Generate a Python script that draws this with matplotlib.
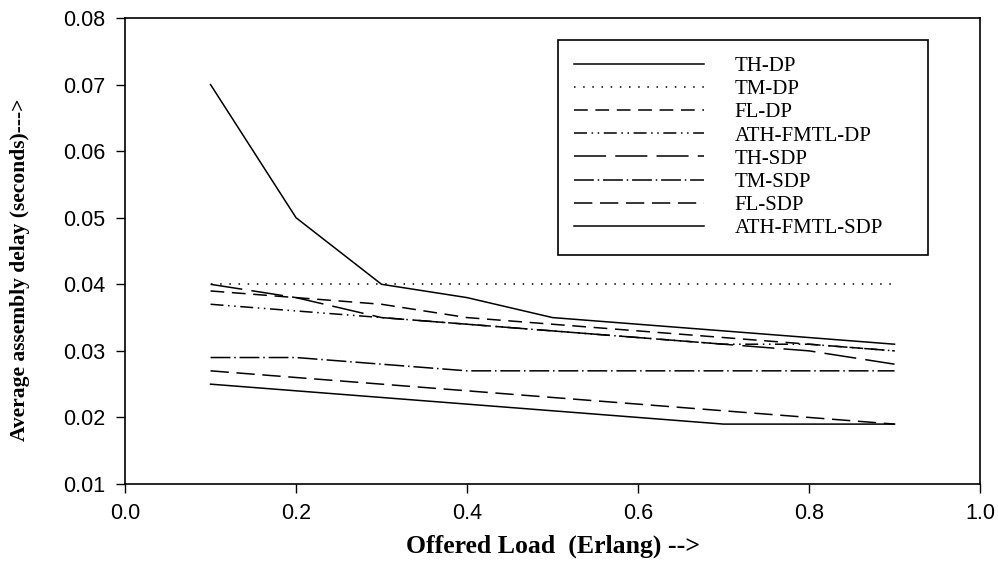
import matplotlib
matplotlib.use('Agg')
import matplotlib.pyplot as plt

# offered load (Erlang)
load = [0.1, 0.2, 0.3, 0.4, 0.5, 0.6, 0.7, 0.8, 0.9]

# average assembly delay (s) per scheme
th_dp = [0.070, 0.050, 0.040, 0.038, 0.035, 0.034, 0.033, 0.032, 0.031]
tm_dp = [0.040, 0.040, 0.040, 0.040, 0.040, 0.040, 0.040, 0.040, 0.040]
fl_dp = [0.039, 0.038, 0.037, 0.035, 0.034, 0.033, 0.032, 0.031, 0.030]
ath_fmtl_dp = [0.037, 0.036, 0.035, 0.034, 0.033, 0.032, 0.031, 0.031, 0.030]
th_sdp = [0.040, 0.038, 0.035, 0.034, 0.033, 0.032, 0.031, 0.030, 0.028]
tm_sdp = [0.029, 0.029, 0.028, 0.027, 0.027, 0.027, 0.027, 0.027, 0.027]
fl_sdp = [0.027, 0.026, 0.025, 0.024, 0.023, 0.022, 0.021, 0.020, 0.019]
ath_fmtl_sdp = [0.025, 0.024, 0.023, 0.022, 0.021, 0.020, 0.019, 0.019, 0.019]

labels = ['TH-DP', 'TM-DP', 'FL-DP', 'ATH-FMTL-DP',
          'TH-SDP', 'TM-SDP', 'FL-SDP', 'ATH-FMTL-SDP']
series = [th_dp, tm_dp, fl_dp, ath_fmtl_dp, th_sdp, tm_sdp, fl_sdp, ath_fmtl_sdp]
styles = ['-', (0, (1, 5)), (0, (9, 5)), (0, (8.5, 3, 1, 3, 1, 3)),
          (0, (21, 6)), (0, (13, 2.5, 1, 2.5)), (0, (12, 5)), '-']

fig = plt.figure(figsize=(9.98, 5.63), dpi=100)
ax = fig.add_axes([0.1253, 0.1403, 0.8567, 0.8277])

for y, ls, lab in zip(series, styles, labels):
    ax.plot(load, y, color='black', linestyle=ls, linewidth=1.1, label=lab)

ax.set_xlim(0.0, 1.0)
ax.set_ylim(0.01, 0.08)
ax.set_xticks([0.0, 0.2, 0.4, 0.6, 0.8, 1.0])
ax.set_yticks([0.01, 0.02, 0.03, 0.04, 0.05, 0.06, 0.07, 0.08])
ax.set_xticklabels(['0.0', '0.2', '0.4', '0.6', '0.8', '1.0'])
ax.set_yticklabels(['0.01', '0.02', '0.03', '0.04', '0.05', '0.06', '0.07', '0.08'])
ax.tick_params(direction='out', length=6.5, width=1, labelsize=15.5)
ax.tick_params(axis='y', pad=8)
ax.tick_params(axis='x', pad=7)
for t in ax.get_xticklabels() + ax.get_yticklabels():
    t.set_fontfamily('Liberation Sans')
for s in ax.spines.values():
    s.set_linewidth(1.2)

ax.set_xlabel('Offered Load  (Erlang) -->', family='Liberation Serif',
              fontweight='bold', fontsize=18.5)
ax.set_ylabel('Average assembly delay (seconds)--->', family='Liberation Serif',
              fontweight='bold', fontsize=15.5)
ax.xaxis.set_label_coords(0.5, -0.108)
ax.yaxis.set_label_coords(-0.111, 0.459)

# legend box spans a fixed block of the upper right
leg = ax.legend(loc='upper left', bbox_to_anchor=(0.506, 0.953, 0.433, 0.0),
                mode='expand', borderaxespad=0,
                prop={'family': 'Liberation Serif', 'size': 15},
                handlelength=6.2, handletextpad=1.5, labelspacing=0.17,
                borderpad=0.8, fancybox=False, framealpha=1)
leg.get_frame().set_edgecolor('black')
leg.get_frame().set_linewidth(1.2)
for h in leg.get_lines():
    h.set_linewidth(1.1)

fig.savefig('out.png', dpi=100)
